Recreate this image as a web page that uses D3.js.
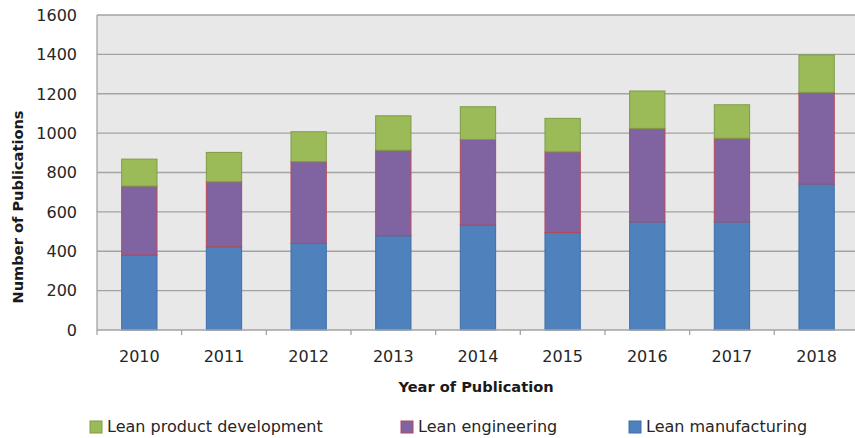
<!DOCTYPE html>
<html>
<head>
<meta charset="utf-8">
<script src="https://cdn.jsdelivr.net/npm/d3@7"></script>
<style>
  html, body { margin: 0; padding: 0; background: #fff; }
  svg { display: block; font-family: "DejaVu Sans", sans-serif; }
</style>
</head>
<body>
<svg id="chart" width="855" height="438"></svg>
<script>
// Publications per year, stacked by topic
const years = ["2010", "2011", "2012", "2013", "2014", "2015", "2016", "2017", "2018"];
const leanManufacturing = [381, 423, 440, 479, 533, 495, 549, 549, 742];
const leanEngineering = [350, 330, 415, 434, 435, 410, 475, 425, 465];
const leanProductDevelopment = [137, 149, 152, 175, 166, 170, 190, 170, 190];
const yTicks = [0, 200, 400, 600, 800, 1000, 1200, 1400, 1600];

const seriesNames = ["Lean manufacturing", "Lean engineering", "Lean product development"];
const fills = ["#4f81bd", "#8064a2", "#9bbb59"];
const strokes = ["#3d6ea8", "#b5485a", "#7e9c46"];

const rows = years.map((yr, i) => ({
  year: yr,
  "Lean manufacturing": leanManufacturing[i],
  "Lean engineering": leanEngineering[i],
  "Lean product development": leanProductDevelopment[i]
}));

const svg = d3.select("#chart");
const plotLeft = 97, plotTop = 15, plotBottom = 330, step = 84.66;
const plotRight = plotLeft + step * years.length;

const x = d3.scaleBand().domain(years).range([plotLeft, plotRight])
  .paddingInner(0.583).paddingOuter(0.2915);
const y = d3.scaleLinear().domain([0, 1600]).range([plotBottom, plotTop]);

// plot area
svg.append("rect").attr("x", plotLeft).attr("y", plotTop)
  .attr("width", plotRight - plotLeft).attr("height", plotBottom - plotTop)
  .attr("fill", "#e8e8e8");

// gridlines
svg.append("g").selectAll("line").data(yTicks.filter(d => d > 0)).join("line")
  .attr("x1", plotLeft).attr("x2", plotRight)
  .attr("y1", d => y(d)).attr("y2", d => y(d))
  .attr("stroke", "#a3a3a3").attr("stroke-width", 1.3);

// y tick labels
svg.append("g").selectAll("text").data(yTicks).join("text")
  .attr("x", 77).attr("y", d => y(d)).attr("dy", "0.36em")
  .attr("text-anchor", "end").attr("font-size", 16).attr("fill", "#262626")
  .text(d => d);

// stacked bars
const stacked = d3.stack().keys(seriesNames)(rows);
svg.append("g").selectAll("g").data(stacked).join("g")
  .attr("fill", (d, i) => fills[i]).attr("stroke", (d, i) => strokes[i])
  .attr("stroke-width", 1)
  .selectAll("rect").data(d => d).join("rect")
  .attr("x", d => x(d.data.year))
  .attr("width", x.bandwidth())
  .attr("y", d => y(d[1]))
  .attr("height", d => y(d[0]) - y(d[1]));

// axis lines
svg.append("line").attr("x1", plotLeft).attr("x2", plotLeft).attr("y1", plotTop).attr("y2", plotBottom)
  .attr("stroke", "#a3a3a3").attr("stroke-width", 1.3);
svg.append("line").attr("x1", plotLeft).attr("x2", plotRight).attr("y1", plotBottom).attr("y2", plotBottom)
  .attr("stroke", "#a3a3a3").attr("stroke-width", 1.3);

// category boundary ticks
const bounds = d3.range(years.length + 1).map(i => plotLeft + i * x.step());
svg.append("g").selectAll("line").data(bounds).join("line")
  .attr("x1", d => d).attr("x2", d => d)
  .attr("y1", plotBottom).attr("y2", plotBottom + 5)
  .attr("stroke", "#a3a3a3").attr("stroke-width", 1.3);

// x tick labels
svg.append("g").selectAll("text").data(years).join("text")
  .attr("x", d => x(d) + x.bandwidth() / 2).attr("y", 362)
  .attr("text-anchor", "middle").attr("font-size", 16).attr("fill", "#262626")
  .text(d => d);

// axis titles
svg.append("text").attr("x", 476).attr("y", 392)
  .attr("text-anchor", "middle").attr("font-size", 14.6).attr("font-weight", "bold")
  .attr("fill", "#1a1a1a").text("Year of Publication");
svg.append("text").attr("transform", "translate(23,207) rotate(-90)")
  .attr("text-anchor", "middle").attr("font-size", 14.6).attr("font-weight", "bold")
  .attr("fill", "#1a1a1a").text("Number of Publications");

// legend
const legendItems = [
  { name: "Lean product development", idx: 2, x: 90 },
  { name: "Lean engineering", idx: 1, x: 401 },
  { name: "Lean manufacturing", idx: 0, x: 629 }
];
const lg = svg.append("g").selectAll("g").data(legendItems).join("g")
  .attr("transform", d => `translate(${d.x},421)`);
lg.append("rect").attr("width", 12).attr("height", 12)
  .attr("fill", d => fills[d.idx]).attr("stroke", d => strokes[d.idx]).attr("stroke-width", 1);
lg.append("text").attr("x", 17).attr("y", 11)
  .attr("font-size", 16).attr("fill", "#262626").text(d => d.name);
</script>
</body>
</html>
